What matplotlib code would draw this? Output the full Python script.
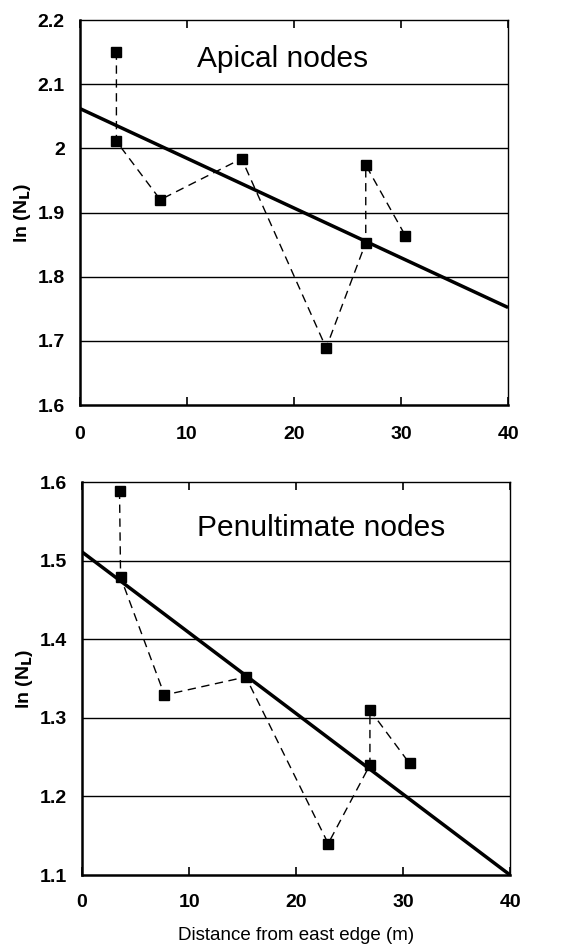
import matplotlib
matplotlib.use("Agg")
import matplotlib.pyplot as plt
import numpy as np

plt.rcParams['font.family'] = ['Liberation Sans', 'DejaVu Sans']

# Apical nodes data (order of the dashed connecting line)
apical_x = [3.4, 3.4, 7.5, 15.1, 23.0, 26.7, 26.7, 30.4]
apical_y = [2.151, 2.011, 1.920, 1.984, 1.689, 1.853, 1.974, 1.864]
apical_fit = [2.062, 1.752]  # values at x = 0 and x = 40

# Penultimate nodes data
penult_x = [3.5, 3.6, 7.7, 15.3, 23.0, 26.9, 26.9, 30.6]
penult_y = [1.589, 1.479, 1.329, 1.352, 1.140, 1.240, 1.310, 1.242]
penult_fit = [1.511, 1.100]

fit_x = [0, 40]
x_ticks = [0, 10, 20, 30, 40]
apical_yticks = [1.6, 1.7, 1.8, 1.9, 2.0, 2.1, 2.2]
apical_ylabels = ['1.6', '1.7', '1.8', '1.9', '2', '2.1', '2.2']
penult_yticks = [1.1, 1.2, 1.3, 1.4, 1.5, 1.6]
penult_ylabels = ['1.1', '1.2', '1.3', '1.4', '1.5', '1.6']

fig = plt.figure(figsize=(5.82, 9.47), dpi=100)
ax1 = fig.add_axes([0.1375, 0.5723, 0.7355, 0.4065])
ax2 = fig.add_axes([0.141, 0.076, 0.7355, 0.415])

def style(ax, yticks, ylabels, ylim, xpad):
    ax.set_xlim(0, 40)
    ax.set_ylim(*ylim)
    ax.set_yticks(yticks)
    ax.set_yticklabels(ylabels, fontsize=14, fontweight='bold')
    ax.set_xticks(x_ticks)
    ax.set_xticklabels([str(t) for t in x_ticks], fontsize=14, fontweight='bold')
    for y in yticks[1:-1]:
        ax.axhline(y, color='black', lw=1.0, zorder=1)
    ax.tick_params(axis='y', length=0, pad=11)
    ax.tick_params(axis='x', direction='in', length=6, width=1.2, top=True, pad=xpad)
    for s in ['left', 'bottom']:
        ax.spines[s].set_linewidth(1.8)
    for s in ['top', 'right']:
        ax.spines[s].set_linewidth(1.0)
    ax.set_ylabel('ln (N$_\\mathbf{L}$)', fontsize=14, fontweight='bold', labelpad=3)

style(ax1, apical_yticks, apical_ylabels, (1.6, 2.2), 15)
style(ax2, penult_yticks, penult_ylabels, (1.1, 1.6), 13.5)

for ax, xs, ys, fy in [(ax1, apical_x, apical_y, apical_fit), (ax2, penult_x, penult_y, penult_fit)]:
    ax.plot(xs, ys, color='black', lw=1.0, ls=(0, (6, 4)), marker='s', ms=6.5,
            markerfacecolor='black', zorder=3)
    ax.plot(fit_x, fy, color='black', lw=2.5, zorder=4, solid_capstyle='butt')

ax1.text(18.9, 2.139, 'Apical nodes', fontsize=21.5, ha='center', va='center')
ax2.text(22.3, 1.541, 'Penultimate nodes', fontsize=21.5, ha='center', va='center')

ax2.set_xlabel('Distance from east edge (m)', fontsize=13.5, labelpad=12)

fig.savefig('out.png', dpi=100)
